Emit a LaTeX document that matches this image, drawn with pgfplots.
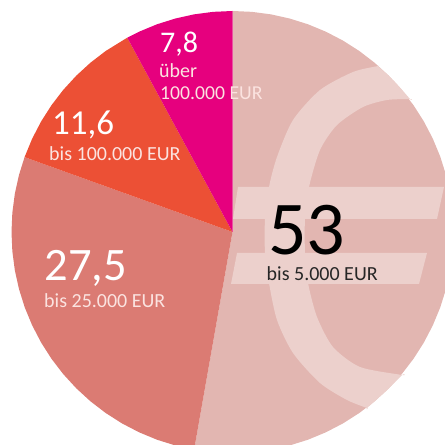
\documentclass[border=0pt]{standalone}
\usepackage{fontspec}
\setmainfont{Carlito}
\usepackage{pgfplots}
\pgfplotsset{compat=1.18}
\definecolor{sA}{HTML}{E2B6B1}
\definecolor{sB}{HTML}{DB7B73}
\definecolor{sC}{HTML}{EC5035}
\definecolor{sD}{HTML}{E6007E}
\definecolor{eu}{HTML}{ECD0CC}
\definecolor{lab}{HTML}{FBE3E0}
\begin{document}
\begin{tikzpicture}
\useasboundingbox (0,0) rectangle (445pt,445pt);
\begin{axis}[at={(0,0)},anchor=south west,scale only axis,width=445pt,height=445pt,hide axis,
  xmin=-232.5,xmax=212.5,ymin=-213,ymax=232,clip=true]
% 53 %
\addplot[fill=sA,draw=none,data cs=polar] coordinates {(0,0)(90,221)(85,221)(80,221)(75,221)(70,221)(65,221)(60,221)(55,221)(50,221)(45,221)(40,221)(35,221)(30,221)(25,221)(20,221)(15,221)(10,221)(5,221)(0,221)(-5,221)(-10,221)(-15,221)(-20,221)(-25,221)(-30,221)(-35,221)(-40,221)(-45,221)(-50,221)(-55,221)(-60,221)(-65,221)(-70,221)(-75,221)(-80,221)(-85,221)(-90,221)(-95,221)(-100,221)} --cycle;
% 27.5 %
\addplot[fill=sB,draw=none,data cs=polar] coordinates {(0,0)(-100,221)(-105,221)(-110,221)(-115,221)(-120,221)(-125,221)(-130,221)(-135,221)(-140,221)(-145,221)(-150,221)(-155,221)(-160,221)(-165,221)(-170,221)(-175,221)(-180,221)(-185,221)(-190,221)(-195,221)(-199.8,221)} --cycle;
% 11.6 %
\addplot[fill=sC,draw=none,data cs=polar] coordinates {(0,0)(-199.8,221)(-205,221)(-210,221)(-215,221)(-220,221)(-225,221)(-230,221)(-235,221)(-241.56,221)} --cycle;
% 7.8 %
\addplot[fill=sD,draw=none,data cs=polar] coordinates {(0,0)(-241.56,221)(-245,221)(-250,221)(-255,221)(-260,221)(-265,221)(-270,221)} --cycle;
% euro sign
\addplot[fill=eu,draw=none,smooth,tension=0.45] coordinates {(145.5,166)(145.5,166)(120.5,160)(87.5,142)(60.5,112)(44.5,75)(36.5,45)(32.5,13)(32.5,-21)(36.5,-51)(44.5,-88)(60.5,-121)(87.5,-151)(114.5,-168)(134.5,-176)(134.5,-176)(152.5,-160)(169.5,-143)(169.5,-143)(127.5,-135)(100.5,-115)(84.5,-85)(75.5,-51)(72.5,-21)(72.5,13)(76.5,45)(87.5,82)(104.5,107)(130.5,125)(154.5,132)(177.5,133)(177.5,133)(162,150.5)(145.5,166)} --cycle;
\addplot[fill=eu,draw=none] coordinates {(5.5,45)(211.5,45)(204.5,13)(0.5,13)} --cycle;
\addplot[fill=eu,draw=none] coordinates {(4.5,-21)(194.5,-21)(186.5,-52)(-1.5,-52)} --cycle;
% labels
\node[anchor=base west,inner sep=0,font=\fontsize{76}{76}\selectfont] at (axis cs:35.5,-23) {53};
\node[anchor=base west,inner sep=0,text=black!85,font=\fontsize{20}{20}\selectfont] at (axis cs:34,-48.5) {bis 5.000 EUR};
\node[anchor=base west,inner sep=0,text=white,font=\fontsize{46.5}{46.5}\selectfont] at (axis cs:-188,-49) {27,5};
\node[anchor=base west,inner sep=0,text=lab,font=\fontsize{20}{20}\selectfont] at (axis cs:-188.5,-75) {bis 25.000 EUR};
\node[anchor=base west,inner sep=0,text=white,font=\fontsize{35}{35}\selectfont] at (axis cs:-180.5,97) {11,6};
\node[anchor=base west,inner sep=0,text=lab,font=\fontsize{20}{20}\selectfont] at (axis cs:-183.5,71) {bis 100.000 EUR};
\node[anchor=base west,inner sep=0,text=white,font=\fontsize{30}{30}\selectfont] at (axis cs:-72.5,179) {7,8};
\node[anchor=base west,inner sep=0,text=lab,font=\fontsize{20}{20}\selectfont] at (axis cs:-73.5,154) {über};
\node[anchor=base west,inner sep=0,text=lab,font=\fontsize{19.7}{20}\selectfont] at (axis cs:-72.5,132) {100.000 EUR};
\end{axis}
\end{tikzpicture}
\end{document}
